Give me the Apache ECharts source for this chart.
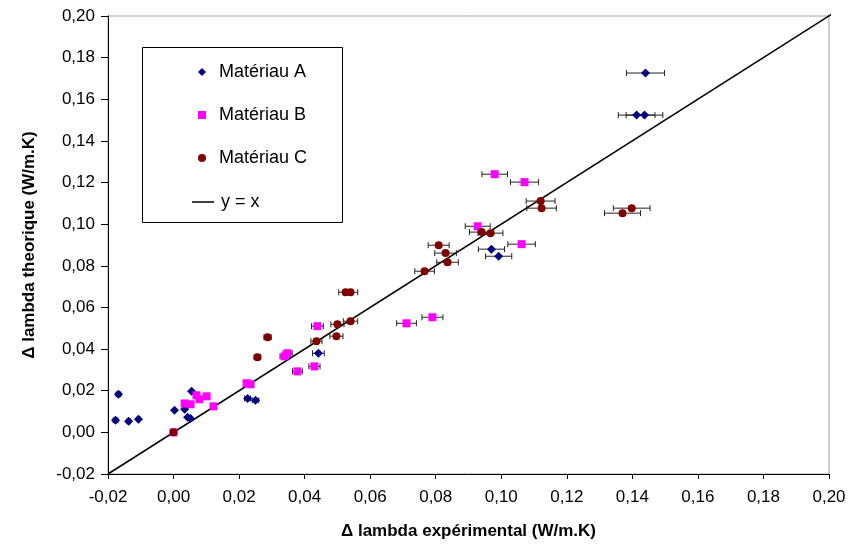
<!DOCTYPE html>
<html>
<head>
<meta charset="utf-8">
<script src="https://cdn.jsdelivr.net/npm/echarts@6/dist/echarts.min.js"></script>
<style>html,body{margin:0;padding:0;background:#fff;}#c{width:850px;height:547px;}</style>
</head>
<body>
<div id="c"></div>
<script>
// Matériau A
const aX = [-0.0177,-0.0168,-0.0137,-0.0107,0.0003,0.0034,0.0055,0.0043,0.0052,0.0226,0.0250,0.0442,0.0970,0.0992,0.1440,0.1413,0.1437];
const aY = [0.0058,0.0183,0.0053,0.0063,0.0106,0.0111,0.0197,0.0072,0.0067,0.0163,0.0154,0.0380,0.0880,0.0846,0.1726,0.1524,0.1524];
const aErr = [0.0007,0.0007,0.0005,0.0004,0,0.0001,0.0002,0.0002,0.0002,0.0009,0.0010,0.0018,0.0040,0.0040,0.0058,0.0056,0.0056];
// Matériau B
const bX = [0,0.0034,0.0052,0.0070,0.0079,0.0101,0.0122,0.0223,0.0235,0.0339,0.0348,0.0378,0.0430,0.0439,0.0711,0.0790,0.0928,0.1062,0.0980,0.1071];
const bY = [0,0.0139,0.0135,0.0178,0.0159,0.0173,0.0125,0.0236,0.0231,0.0365,0.0380,0.0293,0.0317,0.0510,0.0524,0.0553,0.0990,0.0904,0.1240,0.1202];
const bErr = [0,0.0001,0.0002,0.0003,0.0003,0.0004,0.0005,0.0009,0.0009,0.0014,0.0014,0.0015,0.0017,0.0018,0.0030,0.0032,0.0038,0.0042,0.0039,0.0043];
// Matériau C
const cX = [0,0.0256,0.0287,0.0436,0.0497,0.0500,0.0540,0.0525,0.0540,0.0766,0.0809,0.0830,0.0836,0.0940,0.0967,0.1120,0.1123,0.1398,0.1370];
const cY = [0,0.0361,0.0457,0.0438,0.0462,0.0519,0.0534,0.0673,0.0673,0.0774,0.0899,0.0861,0.0817,0.0962,0.0957,0.1111,0.1077,0.1077,0.1053];
const cErr = [0,0.0010,0.0011,0.0017,0.0020,0.0020,0.0022,0.0021,0.0022,0.0030,0.0032,0.0033,0.0033,0.0037,0.0038,0.0044,0.0045,0.0056,0.0055];
// y = x line ends
const lineX = [-0.02, 0.2012];

const markerNames = ['Matériau A','Matériau B','Matériau C'];
const lineName = 'y = x';
const colors = ['#000080','#FF00FF','#800000','#000000'];

function pts(xs, ys){ return xs.map((x,i)=>[x, ys[i]]); }
function errPts(xs, ys, es){ return xs.map((x,i)=>[x, ys[i], es[i]]); }
function fmt(v){ const r = Math.round(v*100)/100; return (Math.abs(r) < 1e-9 ? 0 : r).toFixed(2).replace('.', ','); }

function errorSeries(data){
  return {
    type: 'custom',
    silent: true,
    z: 1,
    data: data,
    encode: {x: 0, y: 1},
    renderItem: function(params, api){
      const x = api.value(0), y = api.value(1), e = api.value(2);
      if (!(e > 0)) return null;
      const p1 = api.coord([x - e, y]);
      const p2 = api.coord([x + e, y]);
      const h = 3;
      const st = {stroke: '#222', lineWidth: 1};
      return {type: 'group', children: [
        {type: 'line', shape: {x1: p1[0], y1: p1[1], x2: p2[0], y2: p2[1]}, style: st},
        {type: 'line', shape: {x1: p1[0], y1: p1[1]-h, x2: p1[0], y2: p1[1]+h}, style: st},
        {type: 'line', shape: {x1: p2[0], y1: p2[1]-h, x2: p2[0], y2: p2[1]+h}, style: st}
      ]};
    }
  };
}

const chart = echarts.init(document.getElementById('c'), null, {renderer: 'canvas'});
const font = 'Liberation Sans, Arial, sans-serif';
const legendText = {fontFamily: font, fontSize: 18, color: '#000', lineHeight: 18};
chart.setOption({
  animation: false,
  backgroundColor: '#fff',
  grid: {left: 108, right: 21, top: 16, bottom: 73, show: true, borderColor: '#a0a0a0', borderWidth: 1},
  graphic: [{
    type: 'rect', left: 142, top: 47, z: 3, silent: true,
    shape: {width: 200, height: 175},
    style: {fill: '#fff', stroke: '#000', lineWidth: 1}
  }],
  legend: [{
    orient: 'vertical',
    left: 198, top: 63,
    padding: 0,
    itemGap: 25,
    itemWidth: 8, itemHeight: 8,
    symbolKeepAspect: true,
    textStyle: Object.assign({padding: [0, 0, 0, 8]}, legendText),
    data: markerNames
  }, {
    orient: 'vertical',
    left: 192, top: 193,
    padding: 0,
    itemWidth: 22, itemHeight: 1.5,
    icon: 'rect',
    textStyle: Object.assign({padding: [0, 0, 0, 2]}, legendText),
    data: [lineName]
  }],
  xAxis: {
    type: 'value', min: -0.02, max: 0.2, interval: 0.02,
    name: 'Δ lambda expérimental (W/m.K)', nameLocation: 'middle', nameGap: 49,
    nameTextStyle: {fontFamily: font, fontSize: 17, fontWeight: 'bold', color: '#000'},
    axisLine: {show: true, onZero: false, lineStyle: {color: '#000', width: 1}},
    axisTick: {show: true, length: 5, lineStyle: {color: '#000'}},
    axisLabel: {fontFamily: font, fontSize: 17, color: '#000', margin: 15, formatter: fmt},
    splitLine: {show: false}
  },
  yAxis: {
    type: 'value', min: -0.02, max: 0.2, interval: 0.02,
    name: 'Δ lambda theorique (W/m.K)', nameLocation: 'middle', nameGap: 70,
    nameTextStyle: {fontFamily: font, fontSize: 17, fontWeight: 'bold', color: '#000'},
    axisLine: {show: true, onZero: false, lineStyle: {color: '#000', width: 1}},
    axisTick: {show: true, length: 7, lineStyle: {color: '#000'}},
    axisLabel: {fontFamily: font, fontSize: 17, color: '#000', margin: 13, formatter: fmt},
    splitLine: {show: false}
  },
  series: [
    {name: lineName, type: 'line', data: pts(lineX, lineX), symbol: 'none', clip: false, z: 0,
     lineStyle: {color: '#000', width: 1.5}, itemStyle: {color: '#000'}},
    errorSeries(errPts(aX, aY, aErr)),
    {name: markerNames[0], type: 'scatter', symbol: 'diamond', symbolSize: 9, z: 2,
     itemStyle: {color: colors[0], opacity: 1}, data: pts(aX, aY)},
    errorSeries(errPts(bX, bY, bErr)),
    {name: markerNames[1], type: 'scatter', symbol: 'rect', symbolSize: 8, z: 3,
     itemStyle: {color: colors[1], opacity: 1}, data: pts(bX, bY)},
    errorSeries(errPts(cX, cY, cErr)),
    {name: markerNames[2], type: 'scatter', symbol: 'circle', symbolSize: 8, z: 4,
     itemStyle: {color: colors[2], opacity: 1}, data: pts(cX, cY)}
  ]
});
</script>
</body>
</html>
